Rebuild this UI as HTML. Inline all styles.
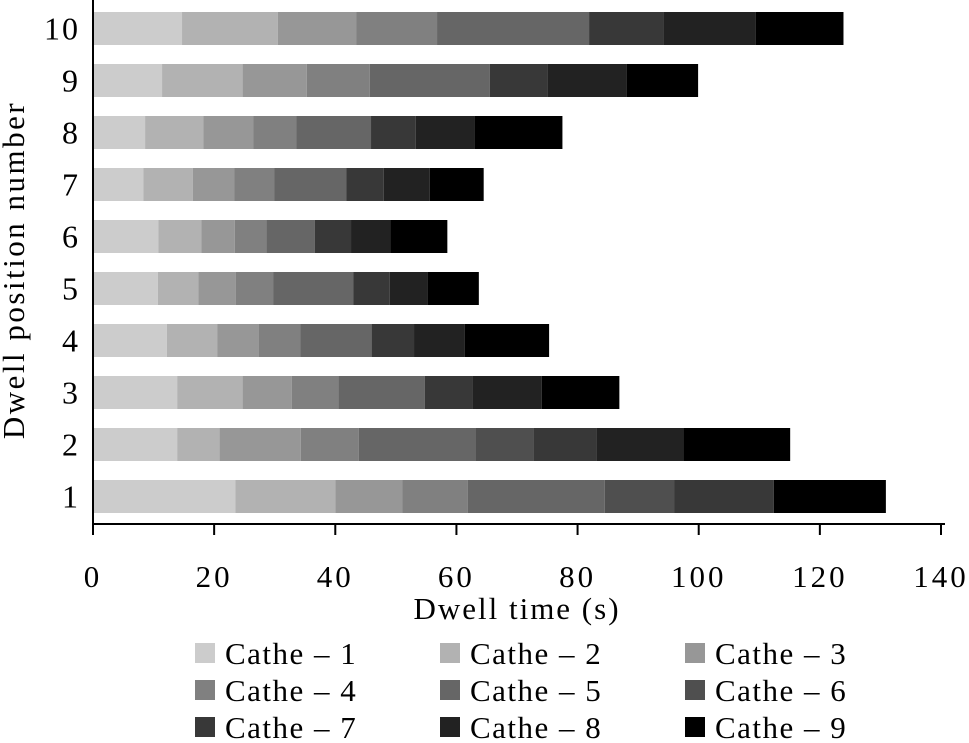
<!DOCTYPE html>
<html><head><meta charset="utf-8">
<style>
body{margin:0;background:#fff;}
svg{display:block;font-family:"Liberation Serif",serif;}
</style></head><body>
<svg id="chart" width="969" height="743">
<g id="bars"></g>
<g id="axes"></g>
<g id="legend"></g>
<text x="517" y="619" text-anchor="middle" font-size="31" letter-spacing="2">Dwell time (s)</text>
<text transform="translate(24,270) rotate(-90)" text-anchor="middle" font-size="31" letter-spacing="2.5">Dwell position number</text>
</svg>
<script>
const categories = [1,2,3,4,5,6,7,8,9,10];
const seriesNames = ["Cathe – 1","Cathe – 2","Cathe – 3","Cathe – 4","Cathe – 5","Cathe – 6","Cathe – 7","Cathe – 8","Cathe – 9"];
const cathe1 = [23.5,13.9,13.9,12.2,10.7,10.8,8.3,8.6,11.4,14.7];
const cathe2 = [16.5,7.0,10.8,8.3,6.7,7.1,8.2,9.6,13.3,15.8];
const cathe3 = [11.1,13.4,8.1,6.9,6.2,5.5,6.8,8.3,10.6,13.0];
const cathe4 = [10.8,9.6,7.7,6.8,6.2,5.2,6.6,7.1,10.4,13.3];
const cathe5 = [22.6,19.2,14.3,11.8,13.2,8.0,11.9,12.3,19.8,25.1];
const cathe6 = [11.5,9.6,0,0,0,0,0,0,0,0];
const cathe7 = [16.4,10.4,7.8,7.0,6.0,6.0,6.2,7.4,9.5,12.3];
const cathe8 = [0,14.4,11.5,8.4,6.3,6.5,7.6,9.7,13.1,15.2];
const cathe9 = [18.5,17.6,12.8,13.9,8.4,9.4,8.9,14.5,11.8,14.5];
const xTicks = [0,20,40,60,80,100,120,140];
const series = [cathe1,cathe2,cathe3,cathe4,cathe5,cathe6,cathe7,cathe8,cathe9];
const colors = ["#cccccc","#b2b2b2","#979797","#808080","#666666","#4f4f4f","#383838","#222222","#000000"];
const NS="http://www.w3.org/2000/svg";
const x0=93, xScale=(848-0)/140;
const xPos=v=>x0+v*xScale;
const yCenter=c=>28.5+(10-c)*52;
const bh=33;
function mk(tag,attrs,parent){const e=document.createElementNS(NS,tag);for(const k in attrs)e.setAttribute(k,attrs[k]);parent.appendChild(e);return e;}
const bars=document.getElementById('bars');
categories.forEach((c,i)=>{
  let acc=0;
  series.forEach((s,j)=>{
    const v=s[i];
    if(v>0){
      const r=mk('rect',{x:xPos(acc),y:yCenter(c)-bh/2,width:v*xScale,height:bh,fill:colors[j]},bars);
      
      
    }
    acc+=v;
  });
});
const axes=document.getElementById('axes');
const yl=mk('line',{x1:x0,y1:0,x2:x0,y2:525,stroke:"#000","stroke-width":2},axes);


const xl=mk('line',{x1:x0-1,y1:524,x2:945,y2:524,stroke:"#000","stroke-width":2},axes);


xTicks.forEach(t=>{
  const tk=mk('line',{x1:xPos(t),y1:524,x2:xPos(t),y2:535,stroke:"#000","stroke-width":2},axes);
  
  
  const tx=mk('text',{x:xPos(t),y:587,"text-anchor":"middle","font-size":31,"letter-spacing":3},axes);
  tx.textContent=t;
  
  
});
categories.forEach(c=>{
  const tx=mk('text',{x:80,y:yCenter(c)+11,"text-anchor":"end","font-size":32,"letter-spacing":2},axes);
  tx.textContent=c;
  
  
});
const legend=document.getElementById('legend');
seriesNames.forEach((n,j)=>{
  const col=j%3, row=Math.floor(j/3);
  const lx=195+col*245, ly=653+row*37;
  const g=mk('g',{},legend);
  
  
  mk('rect',{x:lx,y:ly-10,width:20,height:20,fill:colors[j]},g);
  const t=mk('text',{x:lx+30,y:ly+11,"font-size":31,"letter-spacing":1.5},g);
  t.textContent=n;
});
</script>
</body></html>
